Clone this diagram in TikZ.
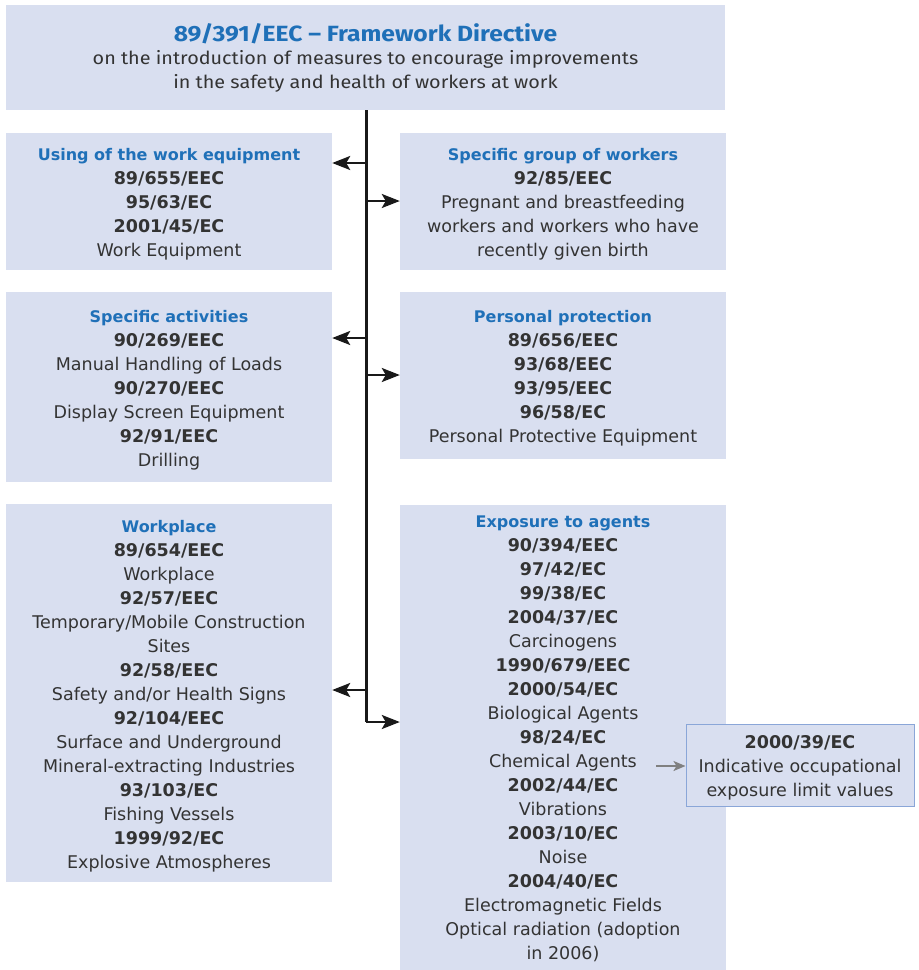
\documentclass[tikz,border=0pt]{standalone}
\usepackage{fontspec}
\setmainfont{DejaVu Sans}
\newfontfamily\topfont[FakeStretch=1.1]{Fira Sans}
\newfontfamily\toptitlefont[FakeStretch=1.12]{Fira Sans}
\usetikzlibrary{arrows.meta}
\definecolor{boxfill}{HTML}{D9DFF0}
\definecolor{titleblue}{HTML}{1F70B8}
\definecolor{txt}{HTML}{333333}
\definecolor{sideborder}{HTML}{8AA6D8}
\definecolor{grayarrow}{HTML}{808080}
\tikzset{
  panel/.style={fill=boxfill, draw=none, anchor=center, inner sep=0pt},
  sidepanel/.style={panel, draw=sideborder, line width=1pt},
  body/.style={align=center, text=txt, inner sep=0pt, anchor=center,
    font=\fontsize{17.5}{24}\selectfont, yshift=-3pt},
  arr/.style={line width=2.5pt, draw=black!90, -{Stealth[length=18pt,width=14pt,inset=4pt]}},
  grayarr/.style={line width=2pt, draw=grayarrow, -{Stealth[length=12pt,width=10pt,inset=3pt]}},
  spine/.style={line width=3pt, draw=black!90},
}
\newcommand{\ttl}[1]{{\fontsize{16}{24}\selectfont\bfseries\color{titleblue}#1}}
\newcommand{\code}[1]{{\bfseries #1}}
\begin{document}
\begin{tikzpicture}[x=1pt,y=-1pt]
\useasboundingbox (0,0) rectangle (919,970);
% top box
\node[panel, minimum width=719pt, minimum height=105pt] (top) at (365.5,57.5) {};
\node[align=center, text=txt, inner sep=0pt, font=\topfont\fontsize{18}{24}\selectfont] (toptext) at (top.center)
  {{\toptitlefont\fontsize{22}{26}\selectfont\bfseries\color{titleblue}89/391/EEC – Framework Directive}\\[-1pt]
   on the introduction of measures to encourage improvements\\
   in the safety and health of workers at work};
% boxes
\node[panel, minimum width=326pt, minimum height=137pt] (L1) at (169,201.5) {};
\node[panel, minimum width=326pt, minimum height=190pt] (L2) at (169,387) {};
\node[panel, minimum width=326pt, minimum height=378pt] (L3) at (169,693) {};
\node[panel, minimum width=326pt, minimum height=137pt] (R1) at (563,201.5) {};
\node[panel, minimum width=326pt, minimum height=167pt] (R2) at (563,375.5) {};
\node[panel, minimum width=326pt, minimum height=465pt] (R3) at (563,737.5) {};
\node[sidepanel, minimum width=228pt, minimum height=82pt] (S) at (800,765) {};
% texts
\node[body] (L1t) at (L1.center)
  {\ttl{Using of the work equipment}\\ \code{89/655/EEC}\\ \code{95/63/EC}\\ \code{2001/45/EC}\\ Work Equipment};
\node[body] (L2t) at (L2.center)
  {\ttl{Specific activities}\\ \code{90/269/EEC}\\ Manual Handling of Loads\\ \code{90/270/EEC}\\ Display Screen Equipment\\ \code{92/91/EEC}\\ Drilling};
\node[body] (L3t) at (L3.center)
  {\ttl{Workplace}\\ \code{89/654/EEC}\\ Workplace\\ \code{92/57/EEC}\\ Temporary/Mobile Construction\\ Sites\\ \code{92/58/EEC}\\ Safety and/or Health Signs\\ \code{92/104/EEC}\\ Surface and Underground\\ Mineral-extracting Industries\\ \code{93/103/EC}\\ Fishing Vessels\\ \code{1999/92/EC}\\ Explosive Atmospheres};
\node[body] (R1t) at (R1.center)
  {\ttl{Specific group of workers}\\ \code{92/85/EEC}\\ Pregnant and breastfeeding\\ workers and workers who have\\ recently given birth};
\node[body] (R2t) at (R2.center)
  {\ttl{Personal protection}\\ \code{89/656/EEC}\\ \code{93/68/EEC}\\ \code{93/95/EEC}\\ \code{96/58/EC}\\ Personal Protective Equipment};
\node[body, yshift=2pt] (R3t) at (R3.center)
  {\ttl{Exposure to agents}\\ \code{90/394/EEC}\\ \code{97/42/EC}\\ \code{99/38/EC}\\ \code{2004/37/EC}\\ Carcinogens\\ \code{1990/679/EEC}\\ \code{2000/54/EC}\\ Biological Agents\\ \code{98/24/EC}\\ Chemical Agents\\ \code{2002/44/EC}\\ Vibrations\\ \code{2003/10/EC}\\ Noise\\ \code{2004/40/EC}\\ Electromagnetic Fields\\ Optical radiation (adoption\\ in 2006)};
\node[body] (St) at (S.center)
  {\code{2000/39/EC}\\ Indicative occupational\\ exposure limit values};
% spine
\coordinate (sb) at (366,722);
\draw[spine] (top.south -| sb) -- (sb);
\coordinate (a1) at (366,163);
\coordinate (a2) at (366,201);
\coordinate (a3) at (366,338);
\coordinate (a4) at (366,375);
\coordinate (a5) at (366,690);
\coordinate (a6) at (366,722);
\draw[arr] (a1) -- (a1 -| L1.east);
\draw[arr] (a2) -- (a2 -| R1.west);
\draw[arr] (a3) -- (a3 -| L2.east);
\draw[arr] (a4) -- (a4 -| R2.west);
\draw[arr] (a5) -- (a5 -| L3.east);
\draw[arr] (a6) -- (a6 -| R3.west);
% gray arrow
\coordinate (g) at (656,766);
\draw[grayarr] (g) -- (g -| S.west);
\end{tikzpicture}
\end{document}
